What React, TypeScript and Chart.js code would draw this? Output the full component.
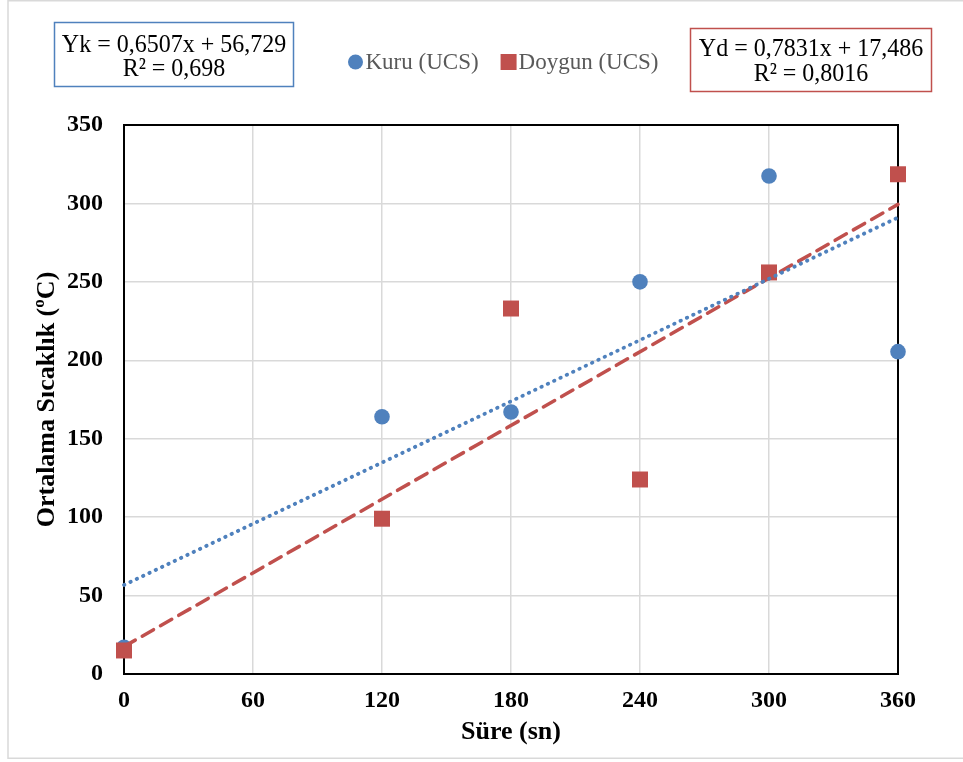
import React, { useEffect, useRef } from "react";
import { Chart, registerables } from "chart.js";

Chart.register(...registerables);

// ---- data ----
const times = [0, 120, 180, 240, 300, 360];
const kuruValues = [17, 164, 167, 250, 317.5, 205.5];
const doygunValues = [15, 99, 233, 124, 256, 318.6];
// trendline end values (at x = 0 and x = 360) from equations shown
const trendX = [0, 360];
const kuruTrend = [56.729, 290.98];
const doygunTrend = [17.486, 299.4];
const xTicks = [0, 60, 120, 180, 240, 300, 360];
const yTicks = [0, 50, 100, 150, 200, 250, 300, 350];

const seriesNames = ["Kuru (UCS)", "Doygun (UCS)"];
const kuruEquation = ["Yk = 0,6507x + 56,729", "R² = 0,698"];
const doygunEquation = ["Yd = 0,7831x + 17,486", "R² = 0,8016"];
const xTitle = "Süre (sn)";
const yTitle = "Ortalama Sıcaklık (ºC)";

const BLUE = "#4F81BD";
const RED = "#C0504D";
const GRID = "#d9d9d9";
const FONT = "'Liberation Serif', 'Times New Roman', serif";

const W = 963;
const H = 762;

const decorPlugin = {
  id: "decor",
  beforeDraw(chart: any) {
    const ctx = chart.ctx;
    ctx.save();
    ctx.fillStyle = "#ffffff";
    ctx.fillRect(0, 0, chart.width, chart.height);
    ctx.strokeStyle = GRID;
    ctx.lineWidth = 1.5;
    ctx.strokeRect(8, 0.75, 1000, 757.5);
    ctx.restore();
  },
  beforeDatasetsDraw(chart: any) {
    const { ctx, chartArea } = chart;
    ctx.save();
    ctx.strokeStyle = "#000000";
    ctx.lineWidth = 2;
    ctx.strokeRect(chartArea.left, chartArea.top, chartArea.right - chartArea.left, chartArea.bottom - chartArea.top);
    ctx.restore();
  },
  afterDraw(chart: any) {
    const ctx = chart.ctx;
    ctx.save();
    // equation boxes
    const drawBox = (x1: number, y1: number, x2: number, y2: number, color: string, lines: string[], ys: number[]) => {
      ctx.fillStyle = "#ffffff";
      ctx.fillRect(x1, y1, x2 - x1, y2 - y1);
      ctx.strokeStyle = color;
      ctx.lineWidth = 1.5;
      ctx.strokeRect(x1, y1, x2 - x1, y2 - y1);
      ctx.fillStyle = "#000000";
      ctx.font = `24px ${FONT}`;
      ctx.textAlign = "center";
      ctx.textBaseline = "middle";
      lines.forEach((t, i) => {
        ctx.save();
        ctx.translate((x1 + x2) / 2, ys[i]);
        ctx.scale(1, 1.08);
        ctx.fillText(t, 0, 0);
        ctx.restore();
      });
    };
    drawBox(54.5, 22.5, 293.5, 86.5, BLUE, kuruEquation, [45, 69]);
    drawBox(690.5, 28.5, 931.5, 91.5, RED, doygunEquation, [49, 74]);

    // legend
    ctx.font = `23px ${FONT}`;
    ctx.textBaseline = "middle";
    ctx.textAlign = "left";
    const markerW = 16;
    const gapMarker = 2;
    const gapItems = 22;
    const w1 = ctx.measureText(seriesNames[0]).width;
    const w2 = ctx.measureText(seriesNames[1]).width;
    const total = markerW + gapMarker + w1 + gapItems + markerW + gapMarker + w2;
    let x = 503 - total / 2;
    const ly = 62;
    ctx.fillStyle = BLUE;
    ctx.beginPath();
    ctx.arc(x + markerW / 2, ly, 7.5, 0, Math.PI * 2);
    ctx.fill();
    x += markerW + gapMarker;
    ctx.fillStyle = "#595959";
    ctx.fillText(seriesNames[0], x, ly + 1);
    x += w1 + gapItems;
    ctx.fillStyle = RED;
    ctx.fillRect(x, ly - 8, 16, 16);
    x += markerW + gapMarker;
    ctx.fillStyle = "#595959";
    ctx.fillText(seriesNames[1], x, ly + 1);
    ctx.restore();
  },
};

export default function App() {
  const ref = useRef<HTMLCanvasElement | null>(null);

  useEffect(() => {
    if (!ref.current) return;
    const pts = (vals: number[], xs: number[]) => vals.map((v, i) => ({ x: xs[i], y: v }));
    const chart = new Chart(ref.current, {
      type: "scatter",
      data: {
        datasets: [
          {
            label: "Kuru trend",
            type: "line",
            data: pts(kuruTrend, trendX),
            borderColor: BLUE,
            borderWidth: 3.8,
            borderDash: [0.5, 6.5],
            borderCapStyle: "round",
            pointRadius: 0,
            fill: false,
            clip: false,
            order: 0,
          },
          {
            label: "Doygun trend",
            type: "line",
            data: pts(doygunTrend, trendX),
            borderColor: RED,
            borderWidth: 3.5,
            borderDash: [13, 8],
            borderCapStyle: "round",
            pointRadius: 0,
            fill: false,
            clip: false,
            order: 1,
          },
          {
            label: seriesNames[1],
            data: pts(doygunValues, times),
            pointStyle: "rect",
            pointRadius: 11.3,
            backgroundColor: RED,
            borderColor: RED,
            borderWidth: 0,
            clip: false,
            order: 2,
          },
          {
            label: seriesNames[0],
            data: pts(kuruValues, times),
            pointStyle: "circle",
            pointRadius: 7.8,
            backgroundColor: BLUE,
            borderColor: BLUE,
            borderWidth: 0,
            clip: false,
            order: 3,
          },
        ],
      },
      options: {
        responsive: false,
        animation: false,
        devicePixelRatio: 1,
        layout: { padding: { left: 0, right: 65, top: 125, bottom: 0 } },
        plugins: {
          legend: { display: false },
          tooltip: { enabled: false },
        },
        scales: {
          x: {
            type: "linear",
            min: 0,
            max: 360,
            afterBuildTicks: (scale: any) => {
              scale.ticks = xTicks.map((v) => ({ value: v }));
            },
            ticks: {
              font: { family: FONT, size: 24, weight: "bold" },
              color: "#000000",
              padding: 12,
              maxRotation: 0,
            },
            grid: { color: GRID, lineWidth: 1.5, drawTicks: false },
            border: { display: false },
            title: {
              display: true,
              text: xTitle,
              font: { family: FONT, size: 26, weight: "bold" },
              color: "#000000",
              padding: { top: 0, bottom: 14 },
            },
            afterFit: (scale: any) => {
              scale.height = 88;
            },
          },
          y: {
            type: "linear",
            min: 0,
            max: 350,
            afterBuildTicks: (scale: any) => {
              scale.ticks = yTicks.map((v) => ({ value: v }));
            },
            ticks: {
              font: { family: FONT, size: 24, weight: "bold" },
              color: "#000000",
              padding: 21,
            },
            grid: { color: GRID, lineWidth: 1.5, drawTicks: false },
            border: { display: false },
            title: {
              display: true,
              text: yTitle,
              font: { family: FONT, size: 26, weight: "bold" },
              color: "#000000",
              padding: { top: 32, bottom: 0 },
            },
            afterFit: (scale: any) => {
              scale.width = 124;
            },
          },
        },
      },
      plugins: [decorPlugin],
    } as any);
    return () => chart.destroy();
  }, []);

  return (
    <div style={{ position: "absolute", left: 0, top: 0, width: W, height: H }}>
      <canvas ref={ref} width={W} height={H} style={{ width: W, height: H, display: "block" }} />
    </div>
  );
}
